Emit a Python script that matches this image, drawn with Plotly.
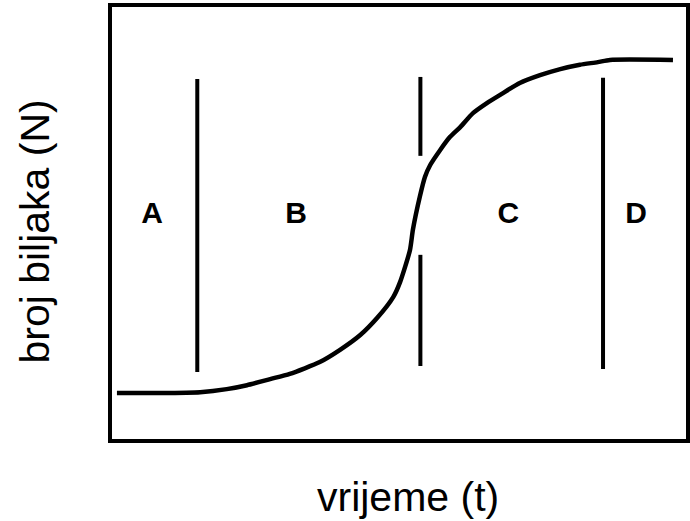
import plotly.graph_objects as go

# Curve data (time units 0-100, N units 0-100)
time_vals = [1.2, 8.7, 15.6, 20.2, 23.7, 27.7, 31.1, 36.3, 39.8, 43.3, 46.2, 49.0, 50.2,
             51.9, 52.4, 53.6, 54.5, 55.4, 57.1, 58.8, 60.6, 62.8, 65.2, 67.5, 70.9,
             74.4, 77.9, 81.3, 84.4, 86.5, 97.4]
n_vals = [11.0, 11.0, 11.2, 11.9, 12.8, 14.2, 15.4, 18.1, 20.9, 24.3, 28.2, 33.0, 36.5,
          43.8, 48.4, 56.0, 60.6, 63.3, 66.7, 69.7, 72.0, 75.2, 77.5, 79.4, 82.1,
          83.9, 85.3, 86.3, 86.9, 87.4, 87.4]

# Phase divider lines: (time, N start, N end)
divider_x = [15.1, 53.7, 53.7, 85.3]
divider_y0 = [15.8, 65.4, 17.2, 16.5]
divider_y1 = [83.0, 83.5, 42.7, 83.3]

# Phase labels
phase_labels = ["A", "B", "C", "D"]
phase_x = [7.3, 32.2, 68.9, 91.0]
phase_y = [51.8, 51.8, 51.8, 51.8]

x_title = "vrijeme (t)"
y_title = "broj biljaka (N)"

fig = go.Figure()

fig.add_trace(go.Scatter(x=time_vals, y=n_vals, mode="lines",
                         line=dict(color="black", width=4.5, shape="spline", smoothing=0.6),
                         hoverinfo="skip", showlegend=False))

for xv, a, b in zip(divider_x, divider_y0, divider_y1):
    fig.add_trace(go.Scatter(x=[xv, xv], y=[a, b], mode="lines",
                             line=dict(color="black", width=4),
                             hoverinfo="skip", showlegend=False))

fig.add_trace(go.Scatter(x=phase_x, y=phase_y, mode="text",
                         text=["<b>%s</b>" % s for s in phase_labels],
                         textfont=dict(family="Liberation Sans, Arial", size=30, color="black"),
                         textposition="middle center", hoverinfo="skip", showlegend=False))

fig.add_shape(type="rect", xref="paper", yref="paper", x0=0, x1=1, y0=0, y1=1,
              line=dict(color="black", width=4), layer="above")

fig.add_annotation(text=x_title, xref="paper", yref="paper", x=0.515, y=-0.128,
                   showarrow=False, xanchor="center", yanchor="middle",
                   font=dict(family="Liberation Sans, Arial", size=41, color="black"))
fig.add_annotation(text=y_title, xref="paper", yref="paper", x=-0.13, y=0.48,
                   showarrow=False, xanchor="center", yanchor="middle", textangle=-90,
                   font=dict(family="Liberation Sans, Arial", size=41, color="black"))

fig.update_xaxes(range=[0, 100], visible=False, fixedrange=True)
fig.update_yaxes(range=[0, 100], visible=False, fixedrange=True)

fig.update_layout(width=690, height=521,
                  margin=dict(l=110, r=2, t=5, b=80, pad=0),
                  plot_bgcolor="white", paper_bgcolor="white")

fig.write_html("out.html", config={"displayModeBar": False},
               post_script="document.body.style.margin='0px';document.body.style.overflow='hidden';")
